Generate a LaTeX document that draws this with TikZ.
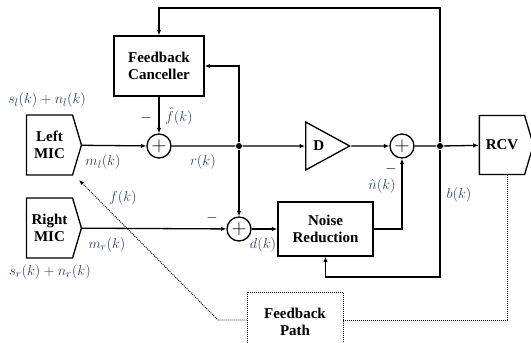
\documentclass[tikz,border=0pt]{standalone}
\usepackage{fontspec}
\setmainfont{Liberation Serif}
\usepackage{amsmath}
\usepackage{tikz}
\usetikzlibrary{arrows.meta,shapes.geometric,shapes.symbols,positioning}

\definecolor{sigblue}{RGB}{45,65,110}

\tikzset{
  block/.style={draw, line width=1.3pt, minimum width=90pt, minimum height=60pt,
    align=center, font=\fontsize{15}{17}\selectfont\bfseries},
  mic/.style={signal, signal to=east, signal pointer angle=147, draw, line width=1.3pt,
    minimum width=55pt, minimum height=60pt, align=center, inner sep=1pt,
    font=\fontsize{15}{17}\selectfont\bfseries},
  adder/.style={circle, draw, line width=1.3pt, minimum size=24pt, inner sep=0pt,
    font=\fontsize{20}{20}\selectfont},
  delay/.style={isosceles triangle, isosceles triangle stretches, draw, minimum width=48pt,
    minimum height=44pt, inner sep=0pt, font=\fontsize{15}{17}\selectfont\bfseries},
  sig/.style={text=sigblue, inner sep=0.5pt, font=\fontsize{15}{17}\selectfont},
  minus/.style={inner sep=0.5pt, font=\fontsize{15}{17}\selectfont},
  junc/.style={circle, fill, inner sep=0pt, minimum size=6pt},
  fbline/.style={line width=0.9pt, dash pattern=on 1pt off 1pt},
}

\begin{document}
\begin{tikzpicture}[x=1pt, y=-1pt, line width=1.3pt, >={Latex[length=5.5pt,width=4.5pt]}]
\useasboundingbox (0,0) rectangle (531,343);

% blocks
\node[block] (fc) at (159,66) {Feedback\\Canceller};
\node[mic] (lmic) at (49.5,145) {Left\\MIC};
\node[mic] (rmic) at (49.5,228) {Right\\MIC};
\node[adder] (sum1) at (159,146) {$+$};
\node[adder] (sum2) at (239,229) {$+$};
\node[adder] (sum3) at (402,146) {$+$};
\node[delay, anchor=lower side] (dly) at (305,146) {D};
\node[block, minimum width=95pt, minimum height=54pt] (nr) at (325.5,229) {Noise\\Reduction};
\node[mic, minimum width=54pt, minimum height=59pt] (rcv) at (502,145) {RCV};
\node[block, fbline, minimum width=96pt, minimum height=60pt] (fp) at (295,322) {Feedback\\Path};

\node[junc] (j1) at (239,146) {};
\node[junc] (j2) at (440,146) {};
\coordinate (top) at (440,8);
\coordinate (loop) at (440,277);
\coordinate (fbbend) at (218,320);
\coordinate (fbtip) at (79,180);

% signal paths
\draw[->] (lmic) -- (sum1);
\draw[->] (fc) -- (sum1);
\draw[->] (sum1) -- (j1) -- (dly);
\draw[->] (dly) -- (sum3);
\draw[->] (sum3) -- (j2) -- (rcv);
\draw[->] (j2) -- (top) -| (fc);
\draw[->] (j1) |- (fc);
\draw[->] (j1) -- (sum2);
\draw[->] (rmic) -- (sum2);
\draw[->] (sum2) -- (nr);
\draw[->] (nr) -| (sum3);
\draw[->] (j2) -- (loop) -| (nr);

% acoustic feedback
\draw[fbline] ([xshift=5pt]rcv.south) |- (fbbend -| fp.east);
\draw[fbline, -{Latex[length=5pt,width=4pt]}] (fbbend -| fp.west) -- (fbbend) -- (fbtip);

% labels
\node[sig] (sl) at (47,100) {$s_l(k)+n_l(k)$};
\node[sig] (sr) at (50,272) {$s_r(k)+n_r(k)$};
\node[sig] (ml) at (103,162) {$m_l(k)$};
\node[sig] (mr) at (107,245) {$m_r(k)$};
\node[sig] (fh) at (179,116) {$\hat{f}(k)$};
\node[sig] (rk) at (203,162) {$r(k)$};
\node[sig] (fk) at (123,198) {$f(k)$};
\node[sig] (dk) at (263,245) {$d(k)$};
\node[sig] (nh) at (382,186) {$\hat{n}(k)$};
\node[sig] (bk) at (459,195) {$b(k)$};
\node[minus] (m1) at (146,118) {$-$};
\node[minus] (m2) at (212,218) {$-$};
\node[minus] (m3) at (391,169) {$-$};
\end{tikzpicture}
\end{document}
